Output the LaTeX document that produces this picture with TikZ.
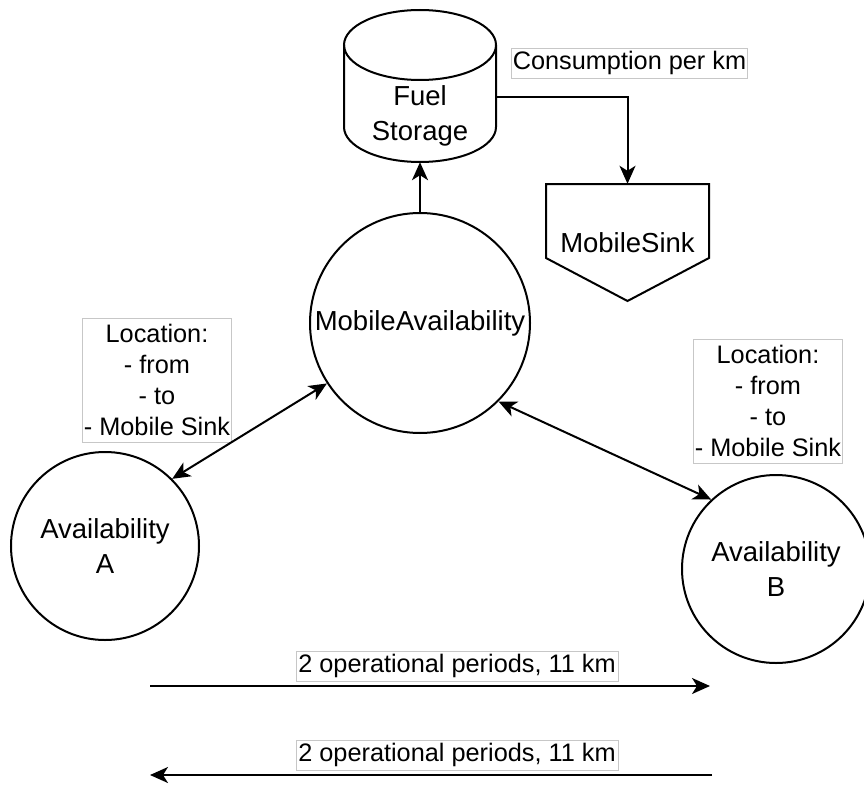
\documentclass[tikz,border=0pt]{standalone}
\usepackage{fontspec}
\setmainfont{Liberation Sans}
\usetikzlibrary{arrows.meta,calc}
\begin{document}
\begin{tikzpicture}[x=1pt,y=-1pt,
  shapefont/.style={font=\fontsize{27.5}{35}\selectfont},
  labelfont/.style={font=\fontsize{25.3}{30.7}\selectfont},
  outline/.style={line width=2pt},
  circ/.style={circle,draw,outline,shapefont,align=center,inner sep=0pt},
  tag/.style={draw=black!22,line width=0.8pt,fill=white,labelfont,align=center,inner sep=1pt},
  link/.style={line width=2pt,-{Stealth[length=18pt,width=16pt,inset=5pt]}},
  both/.style={line width=2pt,{Stealth[length=18pt,width=16pt,inset=5pt]}-{Stealth[length=18pt,width=16pt,inset=5pt]}}
]
\useasboundingbox (0,0) rectangle (864,789);

% fuel storage cylinder
\draw[outline] (420,45) ellipse [x radius=76, y radius=35];
\draw[outline] (344,45) -- (344,127) arc[start angle=180, end angle=0, x radius=76, y radius=35] -- (496,45);
\node[minimum width=152pt, minimum height=152pt, inner sep=0pt] (fuel) at (420,86) {};
\node[shapefont, align=center] (fueltext) at (420,116) {Fuel\\Storage};

% mobile sink (off-page connector shape)
\draw[outline] (546,184) -- (709,184) -- (709,258) -- (627.5,301) -- (546,258) -- cycle;
\node[minimum width=163pt, minimum height=74pt, inner sep=0pt] (sink) at (627.5,221) {};
\node[shapefont] (sinktext) at (627.5,243) {MobileSink};

% availability nodes
\node[circ, minimum size=220pt] (mobile) at (420,323) {MobileAvailability};
\node[circ, minimum size=188pt] (availA) at (105,546) {Availability\\A};
\node[circ, minimum size=188pt] (availB) at (776,569) {Availability\\B};

% labels
\node[tag, minimum width=235pt, minimum height=30pt] (consumption) at (629.5,63) {Consumption per km};
\node[tag, minimum width=148pt, minimum height=124pt] (locA) at (157,380) {Location:\\- from\\- to\\- Mobile Sink};
\node[tag, minimum width=148pt, minimum height=124pt] (locB) at (768,401) {Location:\\- from\\- to\\- Mobile Sink};

% connectors
\draw[link] (mobile.north) -- (fuel.south);
\draw[link] ([yshift=-11pt]fuel.east) -| (sink.north);
\draw[both] (availA.45) -- (mobile.213);
\draw[both] (mobile.315) -- (availB.133);

% travel between A and B
\coordinate (goStart) at (150,686);
\coordinate (goEnd) at (710,686);
\coordinate (backStart) at (712,775);
\coordinate (backEnd) at (150,775);
\draw[link] (goStart) -- (goEnd);
\draw[link] (backStart) -- (backEnd);
\node[tag, minimum width=322pt, minimum height=30pt] (go) at (457,666) {2 operational periods, 11 km};
\node[tag, minimum width=322pt, minimum height=30pt] (back) at (457,755) {2 operational periods, 11 km};
\end{tikzpicture}
\end{document}
